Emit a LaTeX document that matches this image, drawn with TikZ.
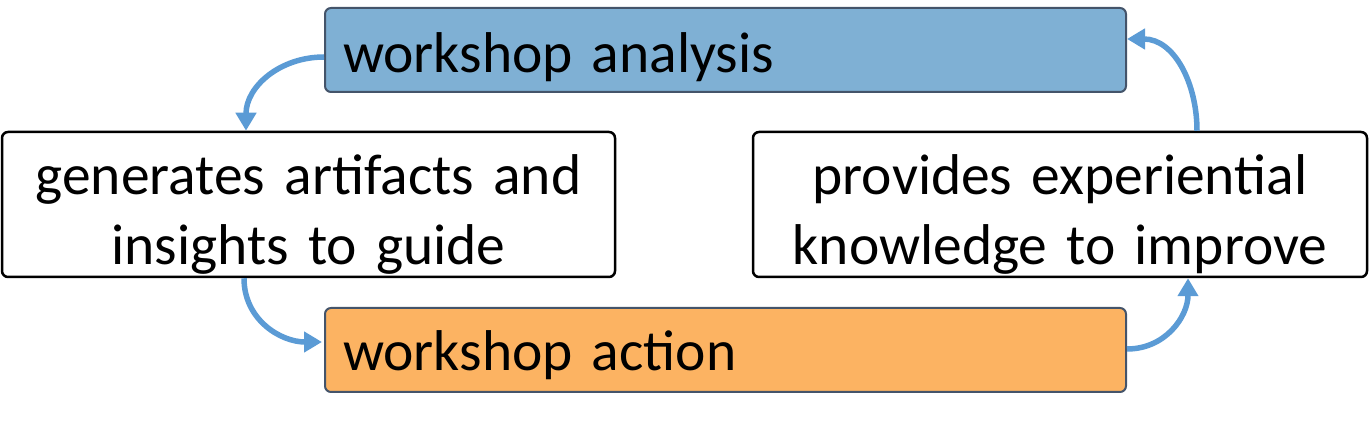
\documentclass[tikz,border=0pt]{standalone}
\usepackage{fontspec}
\setmainfont{Carlito}
\usetikzlibrary{arrows.meta}
\definecolor{anablue}{RGB}{127,176,212}
\definecolor{actorange}{RGB}{252,179,98}
\definecolor{boxedge}{RGB}{68,84,106}
\definecolor{arrowblue}{RGB}{91,155,213}
\tikzset{
  colbox/.style={draw=boxedge, line width=2pt, rounded corners=6pt,
    minimum width=801pt, minimum height=84pt, inner xsep=18pt, inner ysep=0pt,
    text width=765pt, align=left, text depth=0pt},
  whitebox/.style={draw=black, line width=2.5pt, rounded corners=6pt, fill=white,
    minimum height=145pt, inner xsep=6pt, inner ysep=0pt, align=center,
    text height=40pt, text depth=59pt},
  flow/.style={draw=arrowblue, line width=5.5pt, looseness=1.05,
    -{Triangle[width=20pt,length=18pt]}},
  txt/.style={font=\fontsize{57.5pt}{70pt}\selectfont}
}
\begin{document}
\begin{tikzpicture}[x=1pt,y=1pt]
\useasboundingbox (0,0) rectangle (1369,423);
\node[colbox, txt, fill=anablue, text height=46pt] (analysis) at (725.5,373) {workshop analysis};
\node[colbox, txt, fill=actorange, text height=42pt] (action) at (725.5,73) {workshop action};
\node[whitebox, txt, minimum width=613pt, text width=601pt] (generates) at (308.5,218.5) {generates artifacts and\\insights to guide};
\node[whitebox, txt, minimum width=614pt, text width=602pt] (provides) at (1060,218.5) {provides experiential\\knowledge to improve};
\coordinate (a1s) at ([yshift=-7pt]analysis.west);
\coordinate (a1e) at ([xshift=-62.5pt]generates.north);
\coordinate (a2s) at ([xshift=137pt]provides.north);
\coordinate (a2e) at ([yshift=11pt]analysis.east);
\coordinate (a3s) at ([xshift=-64.5pt]generates.south);
\coordinate (a3e) at ([xshift=-2pt,yshift=8pt]action.west);
\coordinate (a4s) at ([yshift=1pt]action.east);
\coordinate (a4e) at ([xshift=128pt]provides.south);
\draw[flow] (a1s) to[out=180,in=90] (a1e);
\draw[flow] (a2s) to[out=90,in=0] (a2e);
\draw[flow] (a3s) to[out=270,in=180] (a3e);
\draw[flow] (a4s) to[out=0,in=270] (a4e);
\end{tikzpicture}
\end{document}
